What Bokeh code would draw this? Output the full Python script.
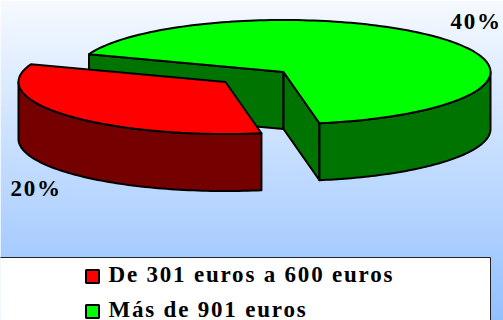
import numpy as np
from bokeh.plotting import figure
from bokeh.models import Range1d
from bokeh.core.properties import value
from bokeh.embed import file_html
from bokeh.resources import INLINE

categories = ["De 301 euros a 600 euros", "Más de 901 euros"]
shares = [20, 40]
share_labels = ["20%", "40%"]
top_colors = ["#FF0000", "#00FF00"]
wall_colors = ["#740000", "#007400"]

FONT = "Liberation Serif"
W, H = 503, 320

p = figure(width=W, height=H, output_backend="svg", toolbar_location=None,
           x_range=Range1d(0, W), y_range=Range1d(H, 0), min_border=0,
           x_axis_location=None, y_axis_location=None, outline_line_color=None)
p.grid.visible = False
p.styles = {"letter-spacing": "1.8px"}

# background gradient
rows = np.arange(0, H, 2)
t = rows / H
cols = ["#%02x%02x%02x" % (int(246 - 100 * f), int(250 - 58 * f), 255) for f in t]
p.quad(left=0, right=W, top=rows, bottom=rows + 2.6, color=cols, line_color=None)

# pie geometry, from shares
total = sum(shares)
a, b, depth = 207.0, 52.0, 57.0
centers = {1: (283.0, 71.5), 0: (225.0, 81.5)}
start_deg = -80.0
green_end = start_deg + shares[1] / total * 360
red_end = green_end + shares[0] / total * 360


def pt(c, deg):
    r = np.radians(deg)
    return c[0] + a * np.cos(r), c[1] - b * np.sin(r)


def arc(c, d0, d1, n=80):
    r = np.radians(np.linspace(d0, d1, n))
    return c[0] + a * np.cos(r), c[1] - b * np.sin(r)


def draw(xs, ys, color):
    p.patch(list(xs), list(ys), fill_color=color, line_color="black", line_width=2,
            line_join="round")


def sector(i, d0, d1, walls):
    c = centers[i]
    for d in walls:  # radial walls
        x, y = pt(c, d)
        draw([c[0], x, x, c[0]], [c[1], y, y + depth, c[1] + depth], wall_colors[i])
    # outer wall: front half of the rim only
    lo, hi = max(d0, 180 if d0 > 90 else -180), min(d1, 360 if d0 > 90 else 0)
    x, y = arc(c, lo, hi)
    draw(np.r_[x, x[::-1]], np.r_[y, y[::-1] + depth], wall_colors[i])
    x, y = arc(c, d0, d1, 160)
    draw(np.r_[c[0], x], np.r_[c[1], y], top_colors[i])


sector(1, start_deg, green_end, [green_end, start_deg])
sector(0, green_end, red_end, [])

# percentage labels
p.text(x=[10, 450], y=[188, 21], text=share_labels, text_font=value(FONT),
       text_font_style="bold", text_font_size="23px", text_color="#000000",
       text_baseline="alphabetic")

# legend
p.quad(left=-5, right=490, top=257, bottom=H + 10, fill_color="white", line_color="#222222", line_width=1)
swatch_y = [276, 311]
p.rect(x=[92, 92], y=swatch_y, width=13, height=13, fill_color=top_colors,
       line_color="black", line_width=2)
p.text(x=[108, 108], y=[274, 309], text=categories, text_font=value(FONT),
       text_font_style="bold", text_font_size="23px", text_color="#000000",
       text_baseline="alphabetic")

open("out.html", "w").write(file_html(p, INLINE))
